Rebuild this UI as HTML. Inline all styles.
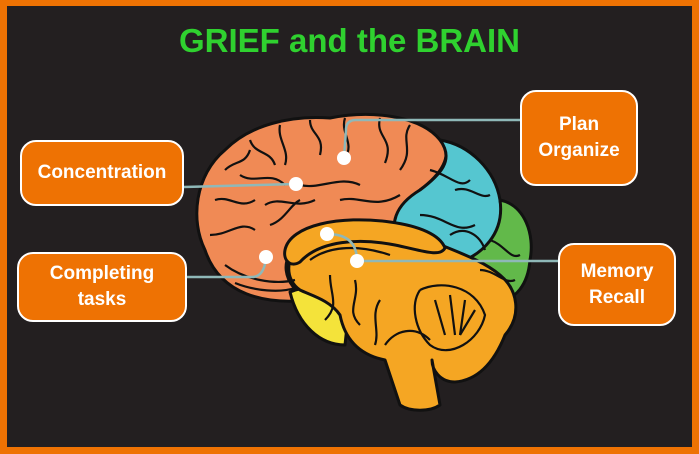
<!DOCTYPE html>
<html><head><meta charset="utf-8"><style>
html,body{margin:0;padding:0;background:#fff}
#w{position:relative;width:699px;height:454px;overflow:hidden;background:#ee7203}
#in{position:absolute;left:7px;top:6px;width:685px;height:441px;background:#231f20}
.t{position:absolute;left:0;width:699px;top:22px;text-align:center;font:bold 33px "Liberation Sans",sans-serif;color:#2fd12f;letter-spacing:0px}
.b{position:absolute;background:#ee7203;border:2.5px solid #fff;border-radius:16px;color:#fff;font:bold 19px "Liberation Sans",sans-serif;display:flex;align-items:center;justify-content:center;text-align:center;line-height:1.35;box-sizing:border-box}
</style></head><body><div id="w"><div id="in"></div>
<svg width="699" height="454" style="position:absolute;left:0;top:0">
<g stroke="#111" stroke-width="3" stroke-linejoin="round">
<path d="M205,250 C190,220 195,175 225,150 C250,125 290,115 330,118 C370,110 420,115 440,140 C455,155 440,175 420,190 C400,205 390,225 395,245 L300,245 C280,255 280,285 310,300 C265,305 220,295 205,250 Z" fill="#f08a55"/>
<path d="M440,140 C470,145 495,170 500,200 C505,225 495,250 470,258 C440,262 420,255 400,245 C388,225 395,205 420,190 C440,175 455,160 440,140 Z" fill="#55c6d0"/>
<path d="M500,200 C525,205 535,235 530,260 C528,285 515,300 500,300 C485,295 470,275 460,262 C480,255 505,235 500,200 Z" fill="#62b94a"/>
<path d="M290,292 C305,285 335,288 350,298 L345,345 C320,345 298,325 290,292 Z" fill="#f4e33a"/>
<path d="M300,245 C320,222 380,218 420,236 C450,250 480,258 500,275 C518,290 522,315 505,335 C495,360 480,380 455,382 C440,382 432,370 432,360 L440,405 C430,412 410,412 400,405 L385,360 C360,355 345,340 340,315 C330,300 310,295 300,290 C285,280 285,258 300,245 Z" fill="#f5a623"/>
<path d="M285,250 C290,225 340,215 390,222 C420,226 440,235 445,248 C440,258 420,250 395,245 C360,238 320,240 300,262 C290,268 283,260 285,250 Z" fill="#f5a623"/>
</g>
<g fill="none" stroke="#111" stroke-width="2.2">
<path d="M225,170 c10,-10 20,-5 25,-20 M250,140 c5,15 20,10 25,25 M280,125 c-3,15 10,25 5,40 M310,120 c0,15 15,15 10,35 M345,118 c-5,15 10,25 0,40 M380,118 c-5,20 15,20 5,45 M410,125 c-10,15 5,25 -10,45"/>
<path d="M215,200 c15,-5 25,10 40,0 M210,235 c20,0 30,-15 45,-5 M240,175 c15,10 30,-5 45,10 M265,205 c15,-10 30,5 50,-5 M300,185 c20,5 40,-10 60,0 M340,200 c20,-5 35,10 60,-5 M270,225 c15,-5 20,-20 30,-25"/>
<path d="M225,265 c20,15 50,20 70,15 M235,283 c20,8 45,10 60,5"/>
<path d="M430,170 c20,5 30,20 40,10 M420,215 c25,0 35,20 55,10 M450,235 c15,-10 30,0 35,15 M455,190 c15,-5 25,10 35,5"/>
<path d="M490,240 c15,5 20,20 30,15 M480,270 c15,0 25,15 35,10"/>
<path d="M420,290 c20,-10 55,-5 65,25 c-5,25 -35,45 -55,30 c-15,-15 -20,-40 -10,-55 M435,300 l10,35 M450,295 l5,40 M465,300 l-5,35 M475,310 l-15,25"/>
<path d="M310,260 c20,-15 50,-15 80,-5 M330,275 c0,20 10,30 -5,45 M355,280 c5,20 -10,30 5,45 M380,300 c-10,15 0,30 -5,45 M385,345 c10,-15 30,-20 45,-5"/>
</g>
<g fill="none" stroke="#8fb8b8" stroke-width="2.5">
<path d="M184,187 L296,184"/>
<path d="M520,120 L356,120 Q346,120 346,130 L344,158"/>
<path d="M186,277 L252,277 Q264,277 266,258"/>
<path d="M558,261 L357,261"/>
<path d="M327,234 Q357,234 357,261"/>
</g>
<g fill="#fff"><circle cx="296" cy="184" r="7"/><circle cx="344" cy="158" r="7"/><circle cx="266" cy="257" r="7"/><circle cx="357" cy="261" r="7"/><circle cx="327" cy="234" r="7"/></g>
</svg>
<div class="t">GRIEF and the BRAIN</div>
<div class="b" style="left:20px;top:140px;width:164px;height:66px">Concentration</div>
<div class="b" style="left:17px;top:252px;width:170px;height:70px">Completing<br>tasks</div>
<div class="b" style="left:520px;top:90px;width:118px;height:96px">Plan<br>Organize</div>
<div class="b" style="left:558px;top:243px;width:118px;height:83px">Memory<br>Recall</div>
</div></body></html>
